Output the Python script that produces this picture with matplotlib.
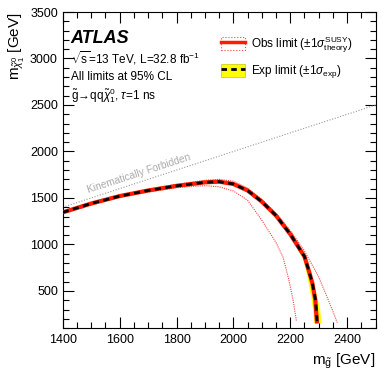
import matplotlib
matplotlib.use("Agg")
import matplotlib.pyplot as plt
from matplotlib.lines import Line2D
from matplotlib.patches import Patch
from matplotlib.ticker import MultipleLocator

plt.rcParams["font.family"] = ["Liberation Sans", "DejaVu Sans"]
plt.rcParams["mathtext.fontset"] = "custom"
plt.rcParams["mathtext.rm"] = "Liberation Sans"
plt.rcParams["mathtext.it"] = "Liberation Sans:italic"
plt.rcParams["mathtext.bf"] = "Liberation Sans:bold"

# observed limit (central)
obs_mg = [1400, 1500, 1600, 1700, 1800, 1900, 1950, 2000, 2050, 2100, 2150, 2200, 2250, 2265, 2278, 2288, 2294]
obs_mchi = [1345, 1440, 1520, 1580, 1630, 1668, 1675, 1650, 1580, 1460, 1310, 1110, 870, 720, 580, 400, 150]

# observed +-1 sigma theory
obs_up_mg = [1400, 1500, 1600, 1700, 1800, 1900, 1950, 2000, 2050, 2100, 2150, 2200, 2250, 2300, 2330, 2350, 2365]
obs_up_mchi = [1355, 1452, 1532, 1594, 1646, 1690, 1700, 1680, 1605, 1485, 1335, 1150, 930, 650, 430, 280, 160]
obs_dn_mg = [1400, 1500, 1600, 1700, 1800, 1850, 1900, 1950, 2000, 2050, 2100, 2150, 2175, 2195, 2210, 2222]
obs_dn_mchi = [1335, 1428, 1508, 1565, 1610, 1625, 1632, 1620, 1575, 1475, 1260, 1020, 860, 620, 400, 170]

# expected limit and +-1 sigma band
exp_mg = [1400, 1500, 1600, 1700, 1800, 1900, 1950, 2000, 2050, 2100, 2150, 2200, 2250, 2265, 2278, 2289, 2295]
exp_mchi = [1345, 1440, 1520, 1580, 1630, 1668, 1675, 1650, 1580, 1460, 1310, 1110, 870, 720, 580, 400, 150]
exp_up_mg = [1400, 1500, 1600, 1700, 1800, 1900, 1950, 2000, 2050, 2100, 2150, 2200, 2250, 2270, 2290, 2305, 2310]
exp_up_mchi = [1362, 1457, 1537, 1597, 1647, 1686, 1692, 1668, 1600, 1480, 1330, 1132, 892, 712, 500, 300, 150]
exp_dn_mg = [1400, 1500, 1600, 1700, 1800, 1900, 1950, 2000, 2050, 2100, 2150, 2200, 2245, 2260, 2274, 2282, 2285]
exp_dn_mchi = [1330, 1424, 1504, 1564, 1614, 1651, 1658, 1633, 1562, 1442, 1290, 1090, 850, 660, 430, 260, 150]

# kinematic boundary m_chi = m_gluino
kin_mg = [1400, 2500]
kin_mchi = [1400, 2500]

RED = "#ff1a00"
PINK = "#ff4040"

fig = plt.figure(figsize=(3.9, 3.75), dpi=100)
ax = fig.add_axes([0.161, 0.125, 0.802, 0.843])

ax.plot(kin_mg, kin_mchi, ls=(0, (1, 1.5)), color="#9a9a9a", lw=0.8)
ax.text(1668, 1765, "Kinematically Forbidden", rotation=18, color="#aaaaaa",
        fontsize=7.3, ha="center", va="center")

ax.fill(exp_up_mg + exp_dn_mg[::-1], exp_up_mchi + exp_dn_mchi[::-1],
        color="#ffff00", lw=0, zorder=2)
ax.plot(obs_up_mg, obs_up_mchi, ls=(0, (1, 1)), color=PINK, lw=0.8, zorder=3)
ax.plot(obs_dn_mg, obs_dn_mchi, ls=(0, (1, 1)), color=PINK, lw=0.8, zorder=3)
ax.plot(obs_mg, obs_mchi, color=RED, lw=3.0, zorder=4, solid_capstyle="butt")
ax.plot(exp_mg, exp_mchi, color="black", lw=2.0, ls=(0, (2.2, 1.6)), zorder=5)

ax.set_xlim(1400, 2500)
ax.set_ylim(100, 3500)
ax.xaxis.set_major_locator(MultipleLocator(200))
ax.xaxis.set_minor_locator(MultipleLocator(50))
ax.yaxis.set_major_locator(MultipleLocator(500))
ax.yaxis.set_minor_locator(MultipleLocator(100))
ax.tick_params(which="both", direction="in", top=True, right=True, labelsize=9)
ax.tick_params(which="major", length=8, width=0.8)
ax.tick_params(which="minor", length=4, width=0.8)
ax.tick_params(axis="x", pad=4)

ax.set_xlabel(r"m$_{\tilde{\mathrm{g}}}$ [GeV]", fontsize=11, loc="right")
ax.set_ylabel(r"m$_{\tilde{\chi}^{0}_{1}}$ [GeV]", fontsize=11, loc="top")
ax.xaxis.set_label_coords(1.0, -0.075)
ax.yaxis.set_label_coords(-0.115, 1.0)

ax.text(0.025, 0.915, "ATLAS", transform=ax.transAxes, fontsize=13,
        fontweight="bold", style="italic", va="center")
ax.text(0.025, 0.855, r"$\sqrt{\mathrm{s}}$=13 TeV, L=32.8 fb$^{-1}$",
        transform=ax.transAxes, fontsize=8.5, va="center")
ax.text(0.025, 0.795, "All limits at 95% CL", transform=ax.transAxes,
        fontsize=8.5, va="center")
ax.text(0.025, 0.735, r"$\tilde{\mathrm{g}}\!\rightarrow\!\mathrm{qq}\tilde{\chi}^{0}_{1}$, $\tau$=1 ns",
        transform=ax.transAxes, fontsize=8.5, va="center")

obs_handle = (Patch(facecolor="white", edgecolor=PINK, ls=":", lw=0.8),
              Line2D([], [], color=RED, lw=2.5))
exp_handle = (Patch(facecolor="#ffff00", edgecolor="#c8c800", lw=0.5),
              Line2D([], [], color="black", lw=2.0, ls=(0, (2, 1.5))))
ax.legend([obs_handle, exp_handle],
          [r"Obs limit ($\pm1\sigma^{\mathrm{SUSY}}_{\mathrm{theory}}$)",
           r"Exp limit ($\pm1\sigma_{\mathrm{exp}}$)"],
          loc="upper left", bbox_to_anchor=(0.48, 0.955), frameon=False,
          fontsize=8.5, handlelength=2.0, handleheight=1.3, labelspacing=0.7,
          handletextpad=0.5, borderpad=0.2)

fig.savefig("out.png", dpi=100)
